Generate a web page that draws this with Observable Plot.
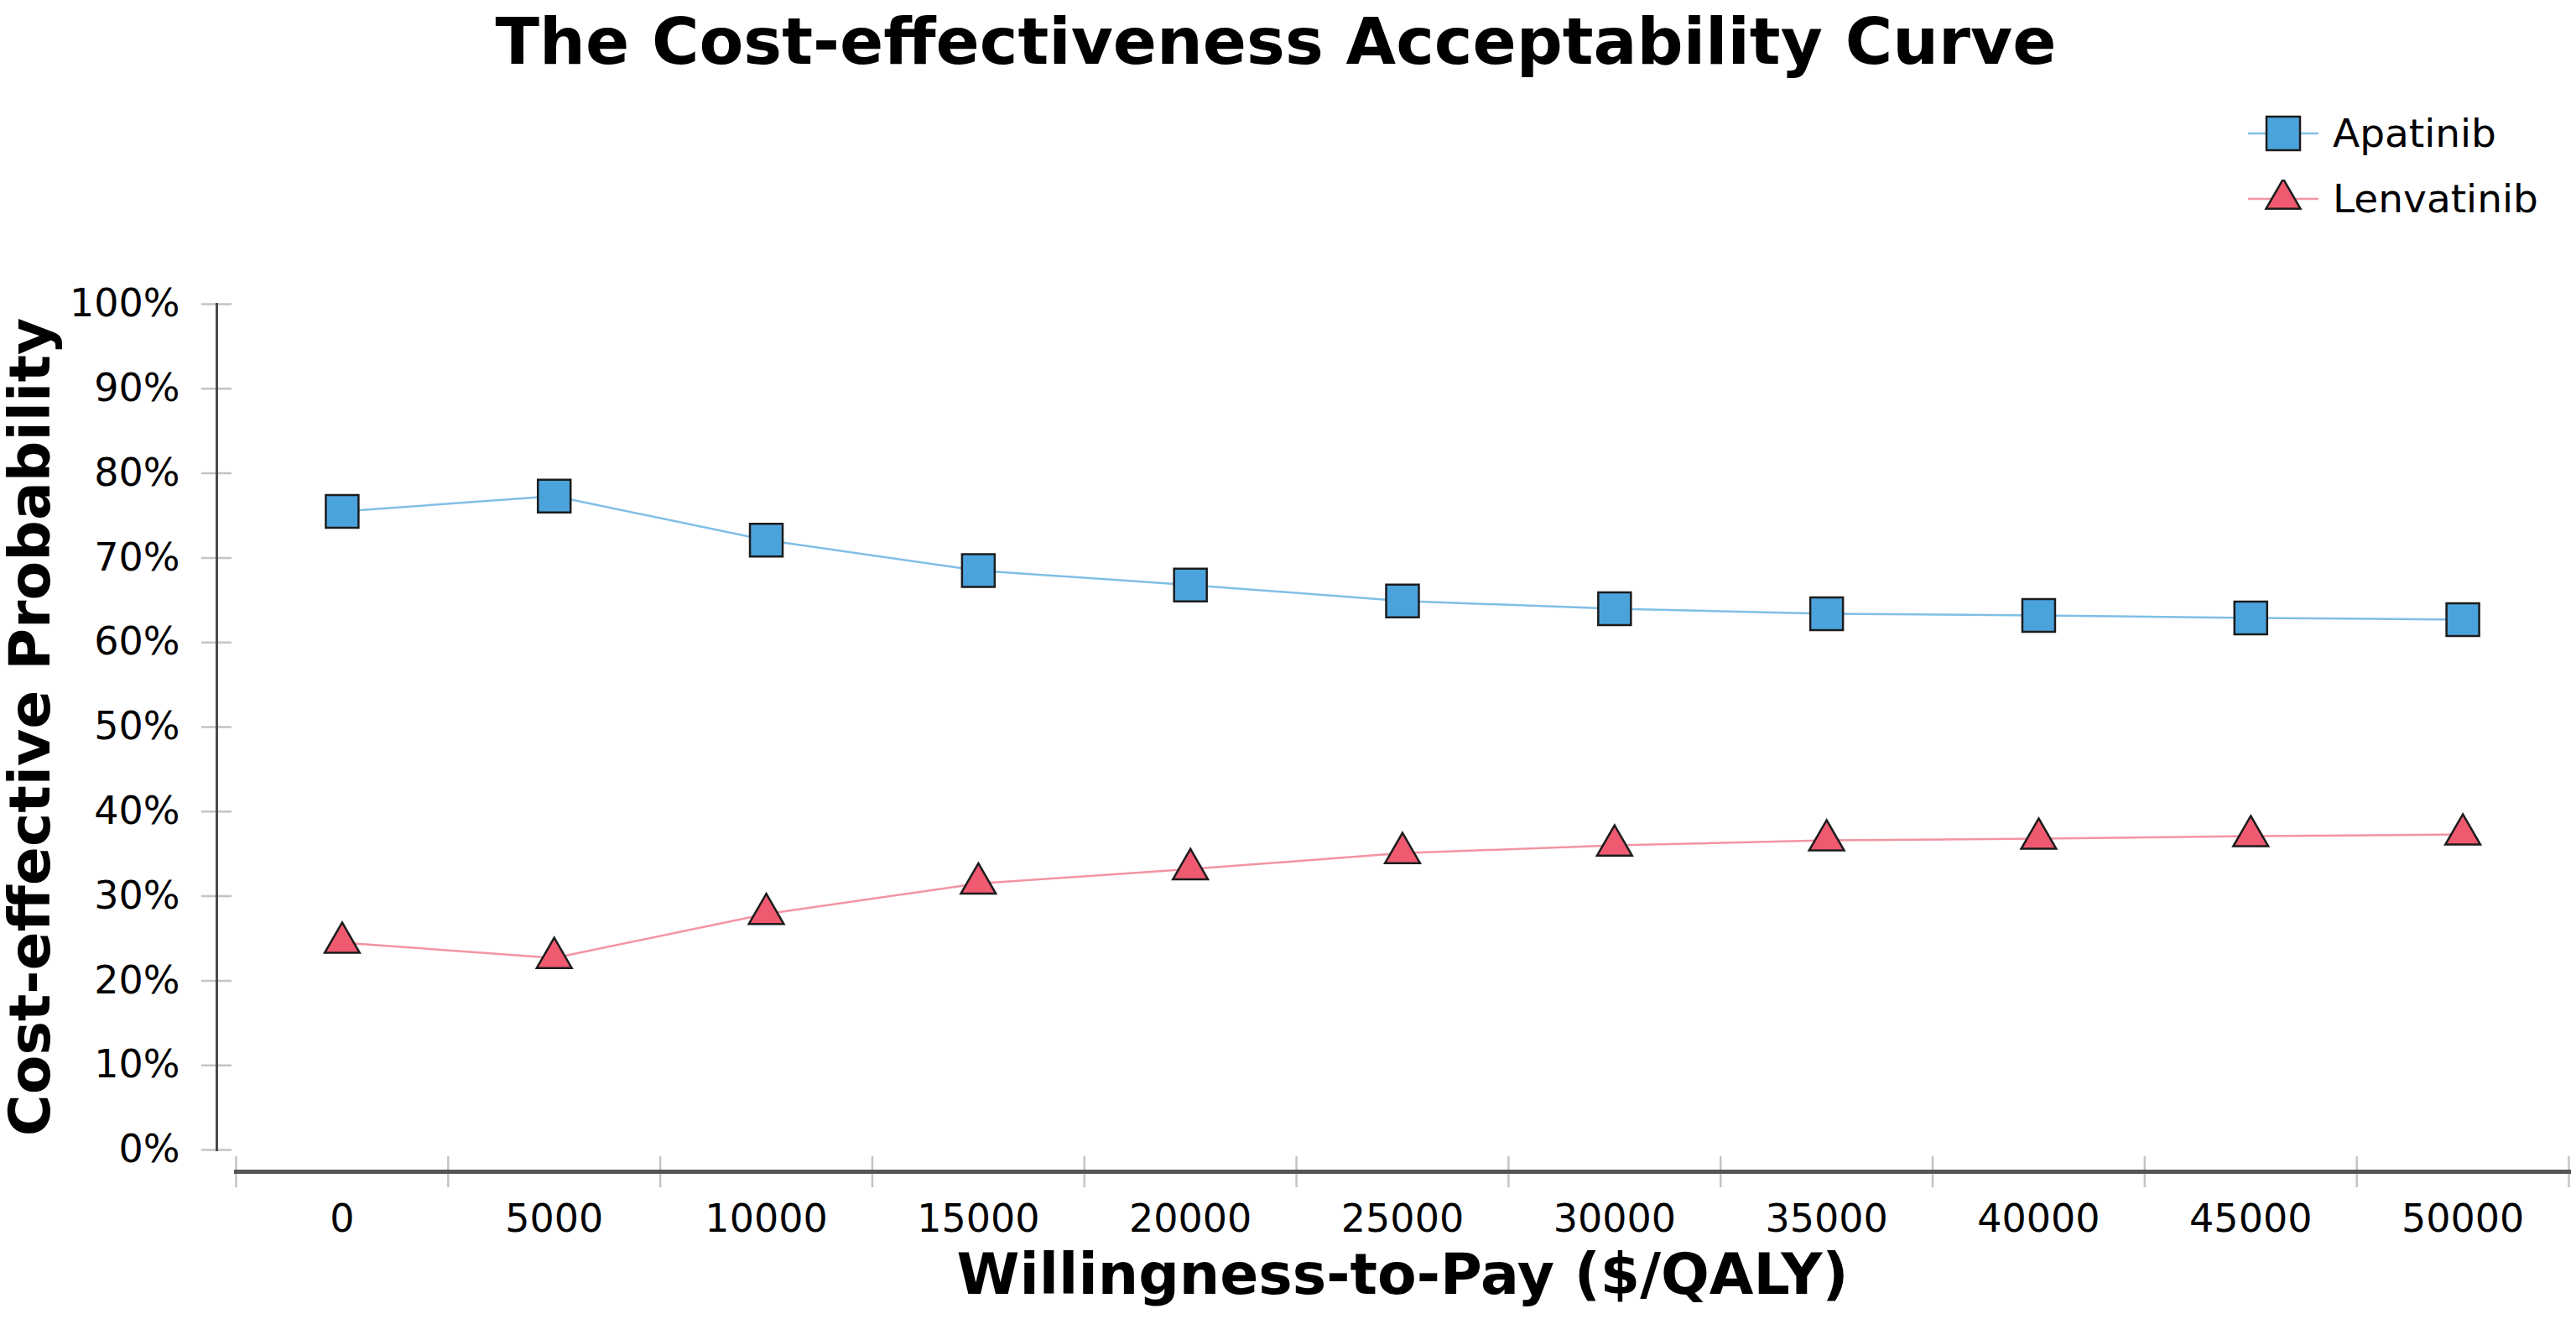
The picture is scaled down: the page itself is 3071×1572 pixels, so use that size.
<!DOCTYPE html>
<html>
<head>
<meta charset="utf-8">
<script src="https://cdn.jsdelivr.net/npm/d3@7"></script>
<script src="https://cdn.jsdelivr.net/npm/@observablehq/plot@0.6"></script>
<style>
  html, body { margin: 0; padding: 0; background: #fff; }
  body { width: 3071px; height: 1572px; font-family: "DejaVu Sans", Verdana, sans-serif; color: #000; overflow: hidden; }
  #header { position: relative; width: 3071px; height: 290px; }
  #title { position: absolute; left: 0; top: 11px; width: 3042px; text-align: center; font-size: 77px; line-height: 77px; font-weight: bold; white-space: nowrap; }
  #legend { position: absolute; left: 2680px; top: 120px; }
  .item { display: flex; align-items: center; height: 78px; }
  .item span { margin-left: 17px; font-size: 47px; line-height: 78px; }
  .item svg { display: block; }
</style>
</head>
<body>
<div id="header">
  <div id="title">The Cost-effectiveness Acceptability Curve</div>
  <div id="legend"></div>
</div>
<div id="chart"></div>
<script>
// ---- data ----
const wtp = [0, 5000, 10000, 15000, 20000, 25000, 30000, 35000, 40000, 45000, 50000];
const apatinib = [75.5, 77.3, 72.1, 68.5, 66.8, 64.9, 64.0, 63.4, 63.2, 62.9, 62.7];
const lenvatinib = [24.5, 22.7, 27.9, 31.5, 33.2, 35.1, 36.0, 36.6, 36.8, 37.1, 37.3];
const seriesNames = ["Apatinib", "Lenvatinib"];
const yTicks = [0, 10, 20, 30, 40, 50, 60, 70, 80, 90, 100];

// ---- styles ----
const blueFill = "#4ba3dc", blueLine = "#80bfe6";
const pinkFill = "#ef5a70", pinkLine = "#f394a3";
const edgeColor = "#1c1c1c";

const step = wtp[1] - wtp[0];
const edges = wtp.map(v => v - step / 2).concat([wtp[wtp.length - 1] + step / 2]);

const aData = wtp.map((x, i) => ({x, y: apatinib[i]}));
const lData = wtp.map((x, i) => ({x, y: lenvatinib[i]}));

const W = 3071, H = 1282;
const mTop = 72, mBottom = 176, mLeft = 281, mRight = 9;
const zeroY = 1080; // pixel row of 0%

const chart = Plot.plot({
  width: W,
  height: H,
  marginTop: mTop,
  marginBottom: mBottom,
  marginLeft: mLeft,
  marginRight: mRight,
  style: {fontFamily: "DejaVu Sans, Verdana, sans-serif", background: "#fff", color: "#000", overflow: "visible"},
  x: {type: "linear", domain: [edges[0], edges[edges.length - 1]], label: null},
  y: {domain: [0, 100], range: [zeroY, mTop], label: null},
  marks: [
    // y axis ticks + labels
    Plot.axisY({ticks: yTicks, tickFormat: d => d + "%", tickSize: 36, tickPadding: 26, dx: -5,
      stroke: "#c4c4c4", strokeWidth: 2.5, fill: "#000", fontSize: 46, label: null}),
    // y axis line
    Plot.frame({anchor: "left", dx: -23, insetBottom: (H - mBottom) - zeroY, stroke: "#4a4a4a", strokeWidth: 3}),
    // x axis band-edge ticks
    Plot.axisX({ticks: edges, tickSize: 37, dy: -18, stroke: "#c4c4c4", strokeWidth: 2.5, fill: "none", tickFormat: () => "", label: null}),
    // x axis line
    Plot.frame({anchor: "bottom", stroke: "#555", strokeWidth: 5}),
    // x tick labels
    Plot.axisX({ticks: wtp, tickSize: 0, tickPadding: 39, tickFormat: d => String(d), fontSize: 46, fill: "#000", label: null}),
    // axis titles
    Plot.text(["Cost-effective Probability"], {frameAnchor: "left", textAnchor: "middle", lineAnchor: "middle",
      dx: 37 - mLeft, dy: (zeroY + mTop) / 2 - (mTop + H - mBottom) / 2,
      rotate: -90, fontSize: 68, fontWeight: "bold", fill: "#000"}),
    Plot.text(["Willingness-to-Pay ($/QALY)"], {frameAnchor: "bottom", textAnchor: "middle", lineAnchor: "middle",
      dy: 124, fontSize: 68, fontWeight: "bold", fill: "#000"}),
    // series
    Plot.line(aData, {x: "x", y: "y", stroke: blueLine, strokeWidth: 2.5}),
    Plot.line(lData, {x: "x", y: "y", stroke: pinkLine, strokeWidth: 2.5}),
    Plot.dot(aData, {x: "x", y: "y", symbol: "square", r: 22, fill: blueFill, stroke: edgeColor, strokeWidth: 2.5}),
    Plot.dot(lData, {x: "x", y: "y", symbol: "triangle", r: 15.5, fill: pinkFill, stroke: edgeColor, strokeWidth: 2.5})
  ]
});
document.getElementById("chart").appendChild(chart);

// ---- legend ----
const legend = document.getElementById("legend");
const legendSpecs = [
  {name: seriesNames[0], line: blueLine, fill: blueFill, shape: "square"},
  {name: seriesNames[1], line: pinkLine, fill: pinkFill, shape: "triangle"}
];
for (const s of legendSpecs) {
  const item = document.createElement("div");
  item.className = "item";
  const ns = "http://www.w3.org/2000/svg";
  const svg = document.createElementNS(ns, "svg");
  svg.setAttribute("width", 84); svg.setAttribute("height", 46);
  const ln = document.createElementNS(ns, "line");
  ln.setAttribute("x1", 0); ln.setAttribute("x2", 84); ln.setAttribute("y1", 23); ln.setAttribute("y2", 23);
  ln.setAttribute("stroke", s.line); ln.setAttribute("stroke-width", 2.5);
  svg.appendChild(ln);
  const sym = document.createElementNS(ns, "path");
  const size = s.shape === "square" ? 1600 : 730;
  sym.setAttribute("d", d3.symbol(s.shape === "square" ? d3.symbolSquare : d3.symbolTriangle, size)());
  sym.setAttribute("transform", "translate(42,23)");
  sym.setAttribute("fill", s.fill); sym.setAttribute("stroke", edgeColor); sym.setAttribute("stroke-width", 2.5);
  svg.appendChild(sym);
  item.appendChild(svg);
  const t = document.createElement("span");
  t.textContent = s.name;
  item.appendChild(t);
  legend.appendChild(item);
}
</script>
</body>
</html>
